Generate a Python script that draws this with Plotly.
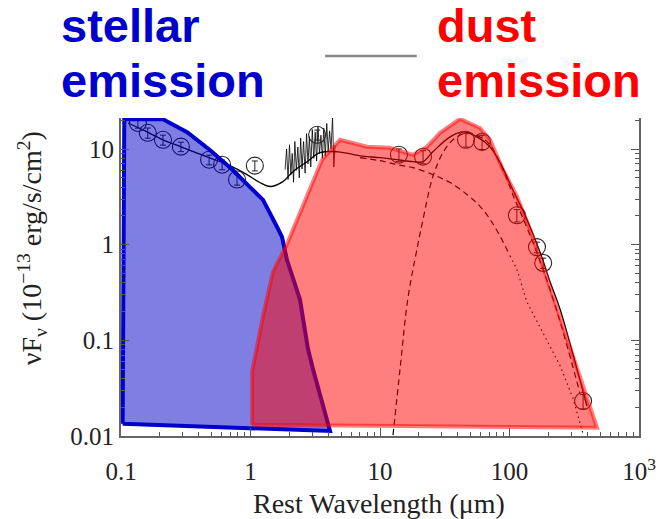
import plotly.graph_objects as go

# ---------------- data ----------------
# stellar emission envelope (blue polygon), wavelength [um], nuFnu [1e-13 erg/s/cm2]
stellar_x = [0.103, 0.106, 0.211, 0.324, 0.486, 0.733, 0.99, 1.25, 1.60, 1.75, 1.91, 2.41, 2.78, 3.04, 4.11, 0.103]
stellar_y = [0.0134, 20.5, 20.5, 15.0, 9.8, 6.0, 4.0, 2.94, 1.54, 1.21, 0.70, 0.267, 0.081, 0.050, 0.0113, 0.0134]

# dust emission envelope (red polygon)
dust_x = [1.03, 1.03, 1.25, 1.49, 1.91, 2.73, 3.57, 4.91, 7.94, 11.9, 18.0, 23.1, 29.1, 41.5, 59.2, 70.7, 89, 114, 144, 181, 233, 474, 1.03]
dust_y = [0.0131, 0.0475, 0.18, 0.52, 1.01, 3.2, 7.74, 12.5, 10.6, 10.3, 8.7, 10.6, 14.8, 20.7, 16.6, 12.5, 6.1, 3.2, 1.45, 0.60, 0.214, 0.0122, 0.0131]

# total SED model (solid)
model_x = [0.1132, 0.148, 0.211, 0.290, 0.479, 0.695, 0.940, 1.18, 1.42, 1.78, 2.13, 2.73, 3.44, 4.74, 7.01, 10.0, 13.5, 18.0, 21.5, 25.6, 34.8, 43.8, 56.1, 70.6, 84.5, 106, 136, 172, 206, 245, 293, 396]
model_y = [18.75, 15.85, 12.5, 10.57, 8.13, 6.71, 5.41, 4.47, 4.06, 4.57, 5.81, 7.38, 9.16, 9.37, 8.51, 8.13, 7.74, 7.38, 7.38, 9.37, 13.4, 15.1, 13.4, 10.57, 7.21, 3.78, 1.85, 0.838, 0.408, 0.214, 0.0929, 0.0206]

# cold dust component (dashed)
cold_x = [12.6, 14.3, 16.4, 19.3, 21.5, 25.6, 30.6, 36.6, 47.0, 59.2, 70.6, 89.1, 106, 136, 172, 217, 268, 350]
cold_y = [0.0102, 0.0510, 0.272, 0.90, 1.85, 5.15, 9.16, 12.5, 14.8, 13.4, 11.1, 6.1, 3.35, 1.52, 0.676, 0.272, 0.105, 0.0281]

# warm dust component (dashed, then dotted)
warm_x = [7.01, 10.0, 13.5, 18.0, 25.6, 34.8, 47.0, 59.2, 70.6, 84.5, 101]
warm_y = [8.13, 7.56, 6.87, 6.40, 5.41, 4.47, 3.35, 2.52, 1.85, 1.23, 0.762]
warm_tail_x = [101, 114, 136, 188, 245, 309, 370]
warm_tail_y = [0.762, 0.557, 0.253, 0.110, 0.0548, 0.0249, 0.0105]

# near-IR spectrum (noisy)
spec_x = [1.85, 1.90, 1.95, 2.00, 2.05, 2.10, 2.15, 2.20, 2.26, 2.32, 2.38, 2.44, 2.50, 2.57, 2.64, 2.71, 2.78, 2.85,
          2.92, 3.00, 3.08, 3.16, 3.24, 3.32, 3.41, 3.50, 3.59, 3.68, 3.78, 3.88, 3.98, 4.08, 4.19, 4.30, 4.40, 4.50]
spec_y = [6.1, 10.0, 4.8, 11.1, 5.4, 9.0, 4.5, 12.0, 6.0, 10.5, 5.0, 13.0, 6.2, 12.0, 5.6, 14.5, 7.0, 13.5,
          6.5, 16.0, 8.0, 15.0, 7.5, 17.0, 9.0, 14.0, 8.0, 16.5, 8.5, 18.5, 9.5, 15.5, 10.0, 22.0, 6.5, 11.0]

# photometry
phot_x = [0.135, 0.161, 0.211, 0.290, 0.479, 0.603, 0.787, 1.08, 3.27, 14.0, 21.5, 46.1, 61.4, 114, 163, 182, 370]
phot_y = [18.75, 14.8, 12.5, 10.6, 7.74, 6.87, 4.80, 6.71, 14.1, 8.73, 8.32, 12.5, 11.9, 2.03, 0.944, 0.644, 0.0232]
phot_err = [2.2, 1.8, 1.5, 1.2, 0.9, 0.8, 0.6, 0.8, 1.7, 1.3, 1.3, 2.0, 2.0, 0.3, 0.12, 0.08, 0.004]

x_tickvals = [0.1, 1, 10, 100, 1000]
x_ticktext = ["0.1", "1", "10", "100", "10<sup>3</sup>"]
y_tickvals = [0.01, 0.1, 1, 10]
y_ticktext = ["0.01", "0.1", "1", "10"]

x_minor = [m * d for d in [0.1, 1, 10, 100] for m in range(2, 10)]
y_minor = [m * d for d in [0.01, 0.1, 1] for m in range(2, 10)] + [20]

# ---------------- figure ----------------
fig = go.Figure()

fig.add_trace(go.Scatter(x=spec_x, y=spec_y, mode="lines",
                         line=dict(color="black", width=0.8), hoverinfo="skip"))
fig.add_trace(go.Scatter(x=model_x, y=model_y, mode="lines",
                         line=dict(color="black", width=1.3), line_shape="spline"))
fig.add_trace(go.Scatter(x=cold_x, y=cold_y, mode="lines",
                         line=dict(color="black", width=1.2, dash="6px,4px"), line_shape="spline"))
fig.add_trace(go.Scatter(x=warm_x, y=warm_y, mode="lines",
                         line=dict(color="black", width=1.2, dash="6px,4px"), line_shape="spline"))
fig.add_trace(go.Scatter(x=warm_tail_x, y=warm_tail_y, mode="lines",
                         line=dict(color="black", width=1.2, dash="1.5px,3.5px")))
fig.add_trace(go.Scatter(x=phot_x, y=phot_y, mode="markers",
                         marker=dict(symbol="circle-open", size=17, color="#222",
                                     line=dict(width=1.1, color="#222")),
                         error_y=dict(type="data", array=phot_err, color="#222",
                                      thickness=1, width=3)))

fig.add_trace(go.Scatter(x=stellar_x, y=stellar_y, mode="lines", fill="toself",
                         fillcolor="rgba(0,0,200,0.5)",
                         line=dict(color="rgb(0,0,204)", width=4)))
fig.add_trace(go.Scatter(x=dust_x, y=dust_y, mode="lines", fill="toself",
                         fillcolor="rgba(255,0,0,0.5)",
                         line=dict(color="rgba(255,0,0,0.5)", width=4)))

axis_common = dict(
    showline=True, linecolor="#666", linewidth=2,
    ticks="inside", ticklen=8, tickwidth=1.2, tickcolor="#555",
    showgrid=False, zeroline=False, automargin=False,
    tickfont=dict(family="Liberation Serif", size=25, color="#222"),
)

fig.update_xaxes(type="log", range=[-1, 3], tickvals=x_tickvals, ticktext=x_ticktext,
                 ticklabelstandoff=12,
                 minor=dict(tickvals=x_minor, ticks="inside", ticklen=4, tickcolor="#555", showgrid=False),
                 **axis_common)
fig.update_yaxes(type="log", range=[-2.0, 1.325], tickvals=y_tickvals, ticktext=y_ticktext,
                 mirror="ticks",
                 minor=dict(tickvals=y_minor, ticks="inside", ticklen=4, tickcolor="#555", showgrid=False),
                 **axis_common)

title_font_b = dict(family="Liberation Sans", size=47, color="#0000CC")
title_font_r = dict(family="Liberation Sans", size=47, color="#FF0000")

annotations = [
    dict(text="<b>stellar</b>", x=-0.12, y=1.292, xanchor="left", yanchor="middle", font=title_font_b),
    dict(text="<b>emission</b>", x=-0.12, y=1.119, xanchor="left", yanchor="middle", font=title_font_b),
    dict(text="<b>dust</b>", x=0.606, y=1.292, xanchor="left", yanchor="middle", font=title_font_r),
    dict(text="<b>emission</b>", x=0.606, y=1.119, xanchor="left", yanchor="middle", font=title_font_r),
    dict(text="νF<sub>ν</sub> (10<sup>−13</sup> erg/s/cm<sup>2</sup>)", x=-0.172, y=0.59,
         xanchor="center", yanchor="middle", textangle=-90,
         font=dict(family="Liberation Serif", size=28, color="#222")),
    dict(text="Rest Wavelength (μm)", x=0.498, y=-0.212, xanchor="center", yanchor="middle",
         font=dict(family="Liberation Serif", size=28, color="#222")),
]
for a in annotations:
    a.update(xref="paper", yref="paper", showarrow=False)

fig.update_layout(
    width=663, height=519,
    margin=dict(l=121, r=24, t=118, b=83),
    paper_bgcolor="white", plot_bgcolor="white",
    showlegend=False,
    annotations=annotations,
    shapes=[dict(type="line", xref="paper", yref="paper", x0=0.394, x1=0.571, y0=1.195, y1=1.195,
                 line=dict(color="#888", width=2.5))],
)

fig.write_html("out.html", config={"displayModeBar": False},
               post_script="document.body.style.margin='0px';document.body.style.padding='0px';")
